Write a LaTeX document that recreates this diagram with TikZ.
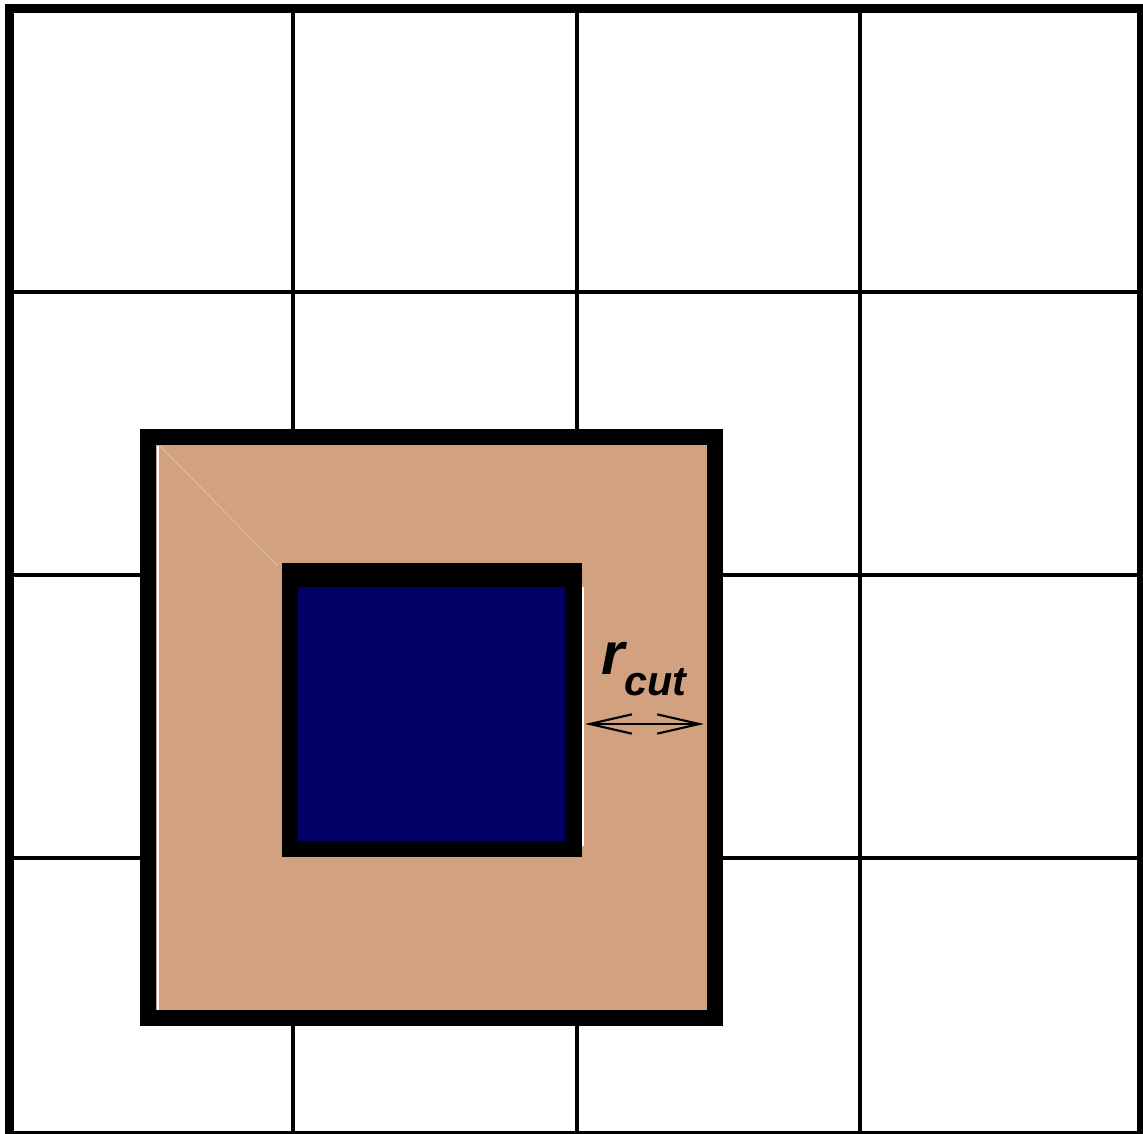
\documentclass[tikz,border=0pt]{standalone}
\usepackage{xcolor}
\usepackage{fontspec}
\setmainfont{Liberation Sans}
\usepackage{tikz}
\usetikzlibrary{arrows.meta}

\definecolor{shellcol}{RGB}{210,161,128}
\definecolor{cellcol}{RGB}{0,0,102}

\begin{document}
\begin{tikzpicture}[x=0.02cm,y=-0.02cm]
\useasboundingbox (0,0) rectangle (1143,1133);
\fill[white] (0,0) rectangle (1143,1133);
% grid of cells
\foreach \g in {293,577,860} \draw[line width=2.3pt] (\g,8) -- (\g,1133);
\foreach \g in {292,575,858} \draw[line width=2.3pt] (9,\g) -- (1140,\g);
\draw[line width=5.1pt] (9.5,8.5) rectangle (1141,1135);
% cutoff shell and central cell
\filldraw[fill=shellcol, line width=9.5pt] (148,437) rectangle (715,1018);
\draw[shellcol!70!white, line width=0.5pt] (160,446) -- (278,566);
\draw[white, line width=1pt] (158,446) -- (158,1010);
\filldraw[fill=cellcol, line width=9.5pt] (290,575) rectangle (573.5,849);
\draw[line width=13.5pt] (282,575) -- (582,575);
\draw[white, line width=1.3pt] (583,587) -- (583,846);
% r_cut
\coordinate (cutl) at (585,724);
\coordinate (cutr) at (704,724);
\draw[{Straight Barb[length=24pt,width=11pt]}-{Straight Barb[length=24pt,width=11pt]}, line width=1.2pt] (cutl) -- (cutr);
\node[anchor=base west, inner sep=0pt] (rcut) at (601,674) {\bfseries\itshape\fontsize{34}{34}\selectfont r\raisebox{-12.5pt}{\fontsize{23.5}{23.5}\selectfont cut}};
\end{tikzpicture}
\end{document}
